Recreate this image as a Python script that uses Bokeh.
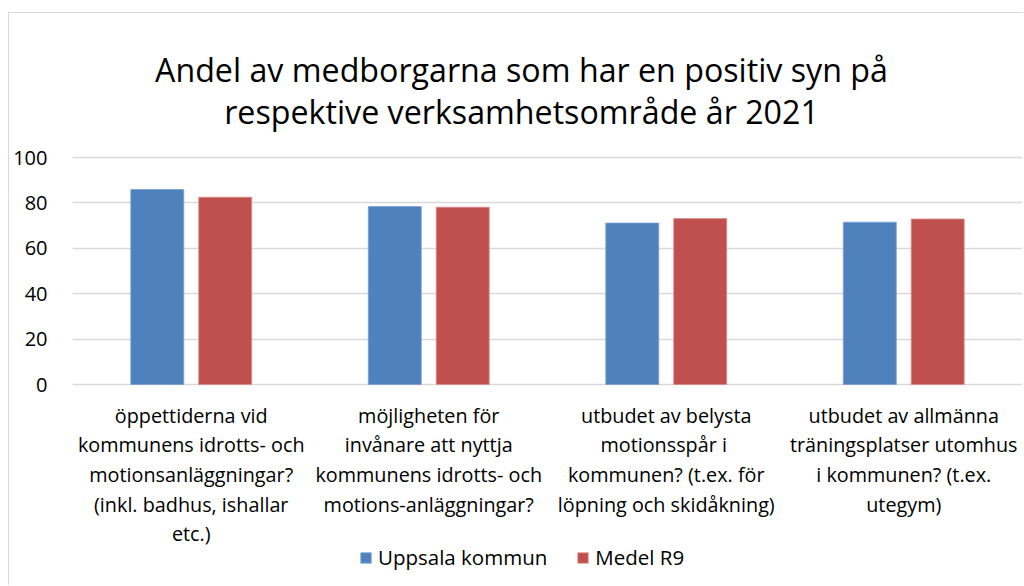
from bokeh.plotting import figure
from bokeh.models import FactorRange, Range1d, FixedTicker, Legend, LegendItem, ColumnDataSource
from bokeh.transform import dodge
from bokeh.core.properties import value
from bokeh.embed import file_html
from bokeh.resources import INLINE

title_lines = ["Andel av medborgarna som har en positiv syn på",
               "respektive verksamhetsområde år 2021"]
categories = [
    "öppettiderna vid\nkommunens idrotts- och\nmotionsanläggningar?\n(inkl. badhus, ishallar\netc.)",
    "möjligheten för\ninvånare att nyttja\nkommunens idrotts- och\nmotions-anläggningar?",
    "utbudet av belysta\nmotionsspår  i\nkommunen? (t.ex. för\nlöpning och skidåkning)",
    "utbudet av allmänna\nträningsplatser utomhus\ni kommunen? (t.ex.\nutegym)",
]
series_names = ["Uppsala kommun", "Medel R9"]
uppsala = [85.9, 78.4, 71.1, 71.5]
medel_r9 = [82.5, 78.1, 73.1, 72.9]
y_ticks = [0, 20, 40, 60, 80, 100]

FONT = "Open Sans"
BLUE = "#4F81BD"
RED = "#C0504D"

src = ColumnDataSource(dict(cat=categories, u=uppsala, m=medel_r9))

# page-pixel layout: zero at y=384, 100 at y=157 -> 2.27 px per unit
ppu = 2.27
y_top = 100 + (157 - 13) / ppu
y_bot = -(586 - 384) / ppu

p = figure(width=1015, height=573, output_backend="svg", toolbar_location=None,
           x_range=FactorRange(*categories, range_padding=0),
           y_range=Range1d(y_bot, y_top),
           min_border_left=63, min_border_right=2, min_border_top=0, min_border_bottom=0,
           margin=(12, 0, 0, 8),
           styles={"border-top": "1px solid #d9d9d9", "border-left": "1px solid #d9d9d9"})
p.outline_line_color = None
p.background_fill_color = "white"
p.border_fill_color = "white"

p.xaxis.visible = False
p.xgrid.grid_line_color = None

p.yaxis.ticker = FixedTicker(ticks=y_ticks)
p.ygrid.ticker = FixedTicker(ticks=y_ticks)
p.ygrid.grid_line_color = "#d9d9d9"
p.ygrid.grid_line_width = 1.5
p.yaxis.axis_line_color = None
p.yaxis.major_tick_line_color = None
p.yaxis.minor_tick_line_color = None
p.yaxis.major_label_text_font = FONT
p.yaxis.major_label_text_font_size = "20px"
p.yaxis.major_label_text_color = "#000000"
p.yaxis.major_label_standoff = 19

r1 = p.vbar(x=dodge("cat", -0.143, range=p.x_range), top="u", width=0.223, source=src,
            fill_color=BLUE, line_color="#7aa0d4", line_width=0.8)
r2 = p.vbar(x=dodge("cat", 0.143, range=p.x_range), top="m", width=0.223, source=src,
            fill_color=RED, line_color="#d98a88", line_width=0.8)

# category labels drawn below zero line
p.text(x="cat", y=(384 - 401) / ppu, text="cat", source=src, text_font=value(FONT),
       text_font_size="19.8px", text_align="center", text_baseline="top",
       text_line_height=1.1, text_color="#000000")

# title
title_x = (521 - 72) / ((1022 - 72) / 4)
p.text(x=[title_x, title_x], y=[(384 - 69) / ppu, (384 - 111) / ppu], text=title_lines,
       text_font=value(FONT), text_font_size="32.2px", text_align="center",
       text_baseline="alphabetic", text_color="#000000")

legend = Legend(items=[LegendItem(label=series_names[0], renderers=[r1]),
                       LegendItem(label=series_names[1], renderers=[r2])],
                orientation="horizontal", location=(287, 15))
legend.label_text_font = FONT
legend.label_text_font_size = "20.5px"
legend.label_text_color = "#000000"
legend.glyph_width = 13
legend.glyph_height = 13
legend.label_standoff = 6
legend.spacing = 29
legend.padding = 0
legend.margin = 0
legend.border_line_color = None
legend.background_fill_alpha = 0
p.add_layout(legend)

open("out.html", "w").write(file_html(p, INLINE))
